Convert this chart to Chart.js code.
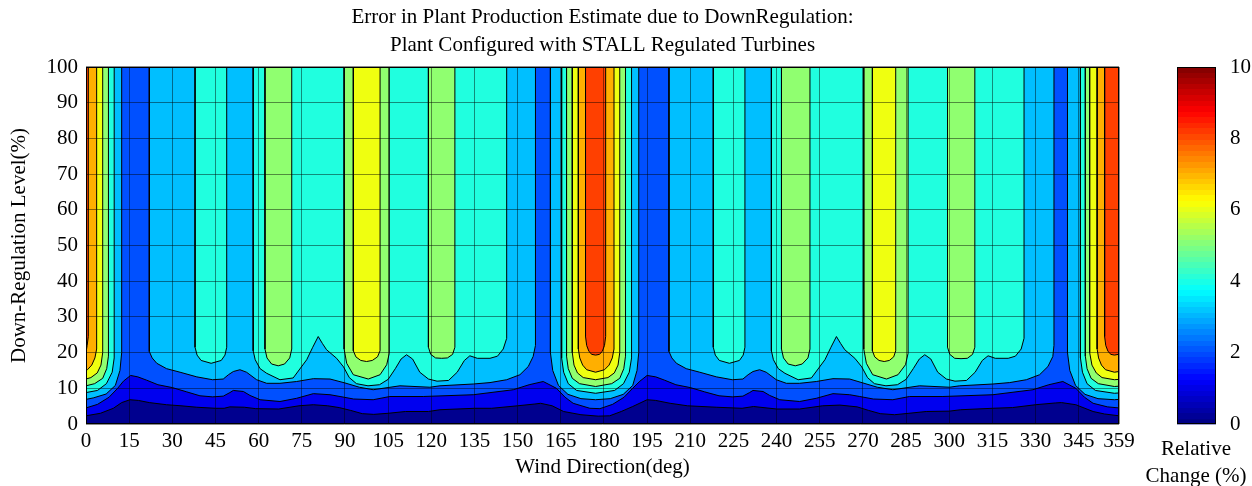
<!DOCTYPE html>
<html>
<head>
<meta charset="utf-8">
<script src="https://cdn.jsdelivr.net/npm/chart.js@4.4.1/dist/chart.umd.min.js"></script>
<style>
  html, body { margin: 0; padding: 0; background: #fff; overflow: hidden; }
  #wrap { position: relative; width: 1252px; height: 486px; }
  #main { position: absolute; left: 0; top: 0; }
  #bar { position: absolute; left: 1140px; top: 0; }
</style>
</head>
<body>
<div id="wrap">
  <canvas id="main" width="1205" height="486"></canvas>
  <canvas id="bar" width="112" height="490"></canvas>
</div>
<script>
// axes
const xTicks = [0, 15, 30, 45, 60, 75, 90, 105, 120, 135, 150, 165, 180, 195, 210, 225, 240, 255, 270, 285, 300, 315, 330, 345, 359];
const yTicks = [0, 10, 20, 30, 40, 50, 60, 70, 80, 90, 100];
const barTicks = [0, 2, 4, 6, 8, 10];

// contour lines [wind direction deg, down-regulation level %], one per level of relative change
const level0 = [[0, 0], [359, 0]];
const level1 = [[0,2.3],[5,3.0],[9.5,4.4],[12.4,6.0],[15.3,6.8],[18.2,6.6],[22,6.0],[28,5.4],[33,5.1],[38.5,4.7],[45,4.4],[48,4.4],[50,4.8],[55,4.7],[59,4.3],[67,4.2],[74,5.1],[79,5.4],[84,5.1],[88,4.6],[92,3.8],[96,2.9],[100,2.7],[105,3.0],[111,3.5],[119,3.5],[123,4.0],[135,4.4],[141,4.4],[150,5.1],[156,5.6],[158,5.8],[162,5.1],[166,3.5],[172,2.6],[178,2.2],[182,2.3],[186,3.5],[190,4.9],[195,6.8],[198,6.6],[203,5.8],[209,5.1],[219,4.7],[228,4.4],[232,4.9],[240,4.2],[248,4.2],[256,5.1],[262,5.3],[268,4.8],[272,3.8],[276,2.9],[281,2.6],[286,3.0],[292,3.5],[300,3.6],[304,4.0],[315,4.4],[322,4.6],[330,5.4],[337,5.9],[339,6.0],[344,5.4],[350,3.5],[354,2.8],[359,2.3]];
const level2 = [[0,4.5],[4,5.5],[8,7.5],[11,10.0],[13,12.0],[15.5,13.6],[18,13.2],[21,12.3],[25,11.0],[30,10.2],[35,9.0],[39.6,7.9],[44,7.6],[47.7,7.8],[50,8.8],[51.2,9.4],[54.7,9.1],[57,8.0],[60.5,6.8],[67.4,6.3],[73.2,7.2],[79,8.5],[84.8,8.2],[88.3,7.7],[93,7.0],[99.8,6.8],[105.6,7.7],[117.2,7.7],[134.6,8.2],[148.5,9.6],[154,11.0],[158.9,11.9],[163.5,10.0],[166.5,7.5],[169.3,5.8],[175.1,4.4],[178.6,4.3],[183,5.5],[187,7.5],[190,10],[192.5,12],[195,13.6],[198,13.2],[201,12.3],[205,11.0],[210,10.2],[215,9.0],[220,7.9],[224.6,7.6],[228.3,7.8],[230.6,8.8],[231.8,9.4],[235.3,9.1],[237.6,8.0],[241.1,6.8],[248,6.3],[253.8,7.2],[259.6,8.5],[265.4,8.2],[268.9,7.7],[273.6,7.0],[280.4,6.8],[286.2,7.7],[297.8,7.7],[315.2,8.2],[329.1,9.6],[334.6,11.0],[339.5,11.9],[344,10.0],[347,7.5],[350,5.8],[355,4.8],[359,4.5]];
const level3 = [[0,6.9],[2.5,7.3],[7,8.4],[10.2,10.8],[11.8,15],[12.4,20],[12.4,100],[22,100],[22,20.3],[23,18.5],[24.6,17],[28,15.5],[32.7,14.5],[38.5,13.2],[44,12.4],[47.7,12.6],[49.5,13.8],[51.2,14.7],[53.5,15.2],[55.8,14.5],[59.3,12.4],[62.8,11.4],[67.4,11.4],[73.2,11.9],[79,12.7],[84.8,12.6],[90,11.5],[95,10.3],[99.8,9.6],[109.1,10.7],[119.5,10.3],[123,10.7],[134.6,11.2],[140.4,11.6],[146.2,12.4],[150.8,13.8],[153.7,16.1],[155.4,18.9],[156.2,22],[156.2,100],[161.4,100],[161.4,20],[162.2,15],[164.2,10.8],[167.5,8.3],[172,7.1],[177.1,6.8],[182.2,7.1],[186.7,8.3],[190,10.8],[191.5,15],[192.1,20],[192.1,100],[202.6,100],[202.6,20.3],[203.6,18.5],[205.2,17],[208.6,15.5],[213.3,14.5],[219.1,13.2],[224.6,12.4],[228.3,12.6],[230.1,13.8],[231.8,14.7],[234.1,15.2],[236.4,14.5],[239.9,12.4],[243.4,11.4],[248,11.4],[253.8,11.9],[259.6,12.7],[265.4,12.6],[270,11.5],[275,10.3],[280.4,9.6],[289.7,10.7],[300.1,10.3],[303.6,10.7],[315.2,11.2],[321,11.6],[326.8,12.4],[331.4,13.8],[334.3,16.1],[336,18.9],[336.4,22],[336.4,100],[341.1,100],[341.1,20],[341.9,15],[343.9,10.8],[347.2,8.3],[351.7,7.1],[357.4,6.8],[359,6.9]];
const level4 = [[0,8.8],[4.0,9.4],[7.1,11.3],[9.1,14.5],[9.8,18.5],[9.8,100],[37.9,100],[37.9,21.5],[38.6,19.3],[40,17.8],[43.5,17.0],[47,17.8],[48.3,19.3],[48.9,21.5],[48.9,100],[58.1,100],[58.1,20.5],[58.8,18],[60.5,15.5],[62.8,14.2],[67.4,12.4],[72,12.9],[76.7,18.0],[78.8,21.5],[80.7,24.5],[82.2,22.5],[83.6,20.8],[87.1,18.4],[89.5,16],[91.5,13],[94,11.3],[98,10.7],[102,11.0],[105,12.5],[107.5,15.5],[109.5,18.2],[111.4,19.4],[113.5,18.2],[116,14.5],[119,12.6],[122,12.0],[126,12.2],[129,14.5],[131.5,17.8],[133.4,19.1],[136,18.4],[140.4,18.4],[143,19.0],[145,21],[146.2,24],[146.2,100],[165.3,100],[165.3,18.5],[166.0,14.5],[167.6,11.3],[170.5,9.4],[177.1,8.6],[183.7,9.4],[186.8,11.3],[188.8,14.5],[189.6,18.5],[189.6,100],[218.0,100],[218.0,21.5],[218.7,19.3],[220.1,17.8],[223.6,17.0],[227.1,17.8],[228.4,19.3],[229.0,21.5],[229.0,100],[238.2,100],[238.2,20.5],[238.9,18],[240.6,15.5],[242.9,14.2],[247.5,12.4],[252.1,12.9],[256.8,18.0],[258.9,21.5],[260.8,24.5],[262.3,22.5],[263.7,20.8],[267.2,18.4],[269.6,16],[271.6,13],[274,11.3],[278,10.7],[282,11.0],[285,12.5],[287.5,15.5],[289.6,18.2],[291.5,19.4],[293.6,18.2],[296,14.5],[299,12.6],[302,12.0],[306,12.2],[309,14.5],[311.5,17.8],[313.5,19.1],[316,18.4],[320.5,18.4],[323,19.0],[325,21],[326,24],[326,100],[345.6,100],[345.6,18.5],[346.3,14.5],[347.9,11.3],[350.8,9.4],[357.4,8.6],[359,8.7]];
const level5 = [[0,10.7],[3.0,11.3],[5.8,12.8],[7.2,15.5],[7.8,19],[7.8,100],[62.2,100],[62.2,21],[62.9,18.5],[64.5,16.8],[66.8,16.3],[69.0,16.8],[70.8,18.5],[71.5,21],[71.5,100],[89.7,100],[89.7,21],[90.6,17.0],[92.9,13.8],[98.1,12.6],[102.2,13.8],[104.5,16.6],[105.4,19.8],[105.4,100],[119.0,100],[119.0,21.5],[119.8,19.5],[121.5,18.5],[123.6,18.4],[125.6,18.5],[127.4,19.5],[128.2,21.5],[128.2,100],[167.0,100],[167.0,19],[167.6,15.5],[169.0,12.8],[171.5,11.3],[177.1,10.5],[182.7,11.3],[185.5,12.8],[186.9,15.5],[187.5,19],[187.5,100],[241.7,100],[241.7,21],[242.4,18.5],[244.0,16.8],[246.5,16.3],[248.9,16.8],[250.9,18.5],[251.6,21],[251.6,100],[270.3,100],[270.3,21],[271.2,17.0],[273.4,13.8],[278.2,12.6],[282.2,13.8],[284.8,16.6],[285.7,19.8],[285.7,100],[299.4,100],[299.4,21.5],[300.2,19.5],[301.9,18.4],[304.1,18.3],[306.3,18.4],[308.1,19.5],[308.9,21.5],[308.9,100],[347.3,100],[347.3,19],[347.9,15.5],[349.3,12.8],[351.8,11.3],[357.4,10.5],[359,10.6]];
const level6 = [[0,12.6],[1.7,13.0],[3.9,14.3],[5.2,16.5],[5.8,20],[5.8,100],[92.9,100],[92.9,20.5],[93.8,18.8],[95.5,17.8],[97.5,17.5],[99.5,17.8],[101.3,18.8],[102.2,20.5],[102.2,100],[169.0,100],[169.0,20],[169.6,16.5],[170.8,14.3],[172.8,13.0],[177.1,12.4],[181.4,13.0],[183.6,14.3],[184.9,16.5],[185.5,20],[185.5,100],[273.3,100],[273.3,20.5],[274.1,18.8],[275.6,17.8],[277.4,17.5],[279.2,17.8],[280.7,18.8],[281.4,20.5],[281.4,100],[348.8,100],[348.8,20],[349.6,16.5],[351.1,14.3],[353.1,13.0],[357.4,12.4],[359,12.5]];
const level7 = [[0,15.0],[0.5,15.2],[2.0,16.5],[3.1,18.5],[3.7,21],[3.7,100],[171.1,100],[171.1,21],[171.6,18.5],[172.6,16.5],[174.0,15.2],[177.1,14.5],[180.2,15.2],[181.8,16.5],[182.9,18.5],[183.5,21],[183.5,100],[351.4,100],[351.4,21],[351.9,18.5],[352.9,16.5],[354.3,15.2],[357.4,14.5],[359,14.7]];
const level8 = [[0,20.0],[0.4,22.0],[0.8,24.5],[0.8,100],[173.6,100],[173.6,24.5],[174.0,22.0],[174.8,20.3],[175.8,19.5],[177.1,19.3],[178.4,19.5],[179.4,20.3],[180.2,22.0],[180.6,24.5],[180.6,100],[354.0,100],[354.0,24.5],[354.4,22.0],[355.2,20.3],[356.2,19.5],[357.4,19.3],[358.8,19.5],[359,19.6]];

const levels = [level0, level1, level2, level3, level4, level5, level6, level7, level8];

// jet colours of the filled bands (lower level of each band)
const bandColors = ['#00008f', '#0000ef', '#0050ff', '#00bfff', '#20ffdf', '#90ff70', '#efff10', '#ffaf00', '#ff4000'];

Chart.defaults.font.family = '"Liberation Serif", "Times New Roman", serif';
Chart.defaults.font.size = 21;
Chart.defaults.color = '#000';

// black box round the plot area
const frame = {
    id: 'frame',
    afterDraw(chart) {
        const { ctx, chartArea: a } = chart;
        ctx.save();
        ctx.strokeStyle = '#000';
        ctx.lineWidth = 1;
        ctx.strokeRect(Math.round(a.left) + 0.5, Math.round(a.top) + 0.5,
            Math.round(a.right - a.left) - 1, Math.round(a.bottom - a.top) - 1);
        ctx.restore();
    }
};

const gridStyle = { color: 'rgba(0,0,0,0.45)', lineWidth: 1, drawTicks: false, z: 1 };

new Chart(document.getElementById('main'), {
    type: 'line',
    data: {
        datasets: levels.map((pts, k) => ({
            data: pts.map((p) => ({ x: p[0], y: p[1] })),
            fill: 'end',
            backgroundColor: bandColors[k],
            borderColor: '#000',
            borderWidth: k === 0 ? 0 : 1,
            borderJoinStyle: 'round',
            pointRadius: 0,
            order: 10 - k,
        })),
    },
    options: {
        responsive: false,
        animation: false,
        plugins: {
            legend: { display: false },
            tooltip: { enabled: false },
            filler: { drawTime: 'beforeDatasetsDraw', propagate: false },
            title: {
                display: true,
                text: ['Error in Plant Production Estimate due to DownRegulation:', 'Plant Configured with STALL Regulated Turbines'],
                font: { size: 21, weight: 'normal', lineHeight: 1.333 },
                padding: { top: 3, bottom: 8 },
            },
        },
        scales: {
            x: {
                type: 'linear',
                min: 0,
                max: 359,
                afterBuildTicks: (ax) => { ax.ticks = xTicks.map((v) => ({ value: v })); },
                afterFit: (s) => { s.height = 62; },
                ticks: { autoSkip: false, maxRotation: 0, padding: 5 },
                grid: gridStyle,
                border: { display: false },
                title: { display: true, text: 'Wind Direction(deg)', padding: { top: 0, bottom: 6 } },
            },
            y: {
                min: 0,
                max: 100,
                afterBuildTicks: (ax) => { ax.ticks = yTicks.map((v) => ({ value: v })); },
                afterFit: (s) => { s.width = 86; },
                ticks: { padding: 8 },
                grid: gridStyle,
                border: { display: false },
                title: { display: true, text: 'Down-Regulation Level(%)', padding: { top: 7, bottom: 0 } },
            },
            y2: {
                position: 'right',
                min: 0,
                max: 100,
                afterFit: (s) => { s.width = 86; },
                ticks: { display: false },
                grid: { display: false },
                border: { display: false },
            },
        },
    },
    plugins: [frame],
});

// colour bar
function jet(t) {
    const r = Math.min(Math.max(Math.min(4 * t - 1.5, -4 * t + 4.5), 0), 1);
    const g = Math.min(Math.max(Math.min(4 * t - 0.5, -4 * t + 3.5), 0), 1);
    const b = Math.min(Math.max(Math.min(4 * t + 0.5, -4 * t + 2.5), 0), 1);
    return 'rgb(' + Math.round(r * 255) + ',' + Math.round(g * 255) + ',' + Math.round(b * 255) + ')';
}

new Chart(document.getElementById('bar'), {
    type: 'bar',
    data: {
        labels: [''],
        datasets: [{
            data: [[0, 10]],
            barPercentage: 1,
            categoryPercentage: 1,
            borderWidth: 0,
            backgroundColor: (c) => {
                const a = c.chart.chartArea;
                if (!a) return '#000';
                const grad = c.chart.ctx.createLinearGradient(0, a.bottom, 0, a.top);
                for (let i = 0; i < 64; i++) {
                    const col = jet((i + 0.5) / 64);
                    grad.addColorStop(i / 64, col);
                    grad.addColorStop((i + 1) / 64, col);
                }
                return grad;
            },
        }],
    },
    options: {
        responsive: false,
        animation: false,
        layout: { padding: { top: 67 } },
        plugins: {
            legend: { display: false },
            tooltip: { enabled: false },
            title: {
                display: true,
                position: 'bottom',
                text: ['Relative', 'Change (%)'],
                font: { size: 21, weight: 'normal', lineHeight: 1.3 },
                padding: { top: 11, bottom: 0 },
            },
        },
        scales: {
            x: { display: false },
            yl: {
                position: 'left',
                afterFit: (s) => { s.width = 37; },
                ticks: { display: false },
                grid: { display: false },
                border: { display: false },
            },
            y: {
                position: 'right',
                min: 0,
                max: 10,
                afterBuildTicks: (ax) => { ax.ticks = barTicks.map((v) => ({ value: v })); },
                afterFit: (s) => { s.width = 36; },
                grid: { display: false },
                border: { display: false },
                ticks: { padding: 6 },
            },
        },
    },
    plugins: [frame],
});
</script>
</body>
</html>
